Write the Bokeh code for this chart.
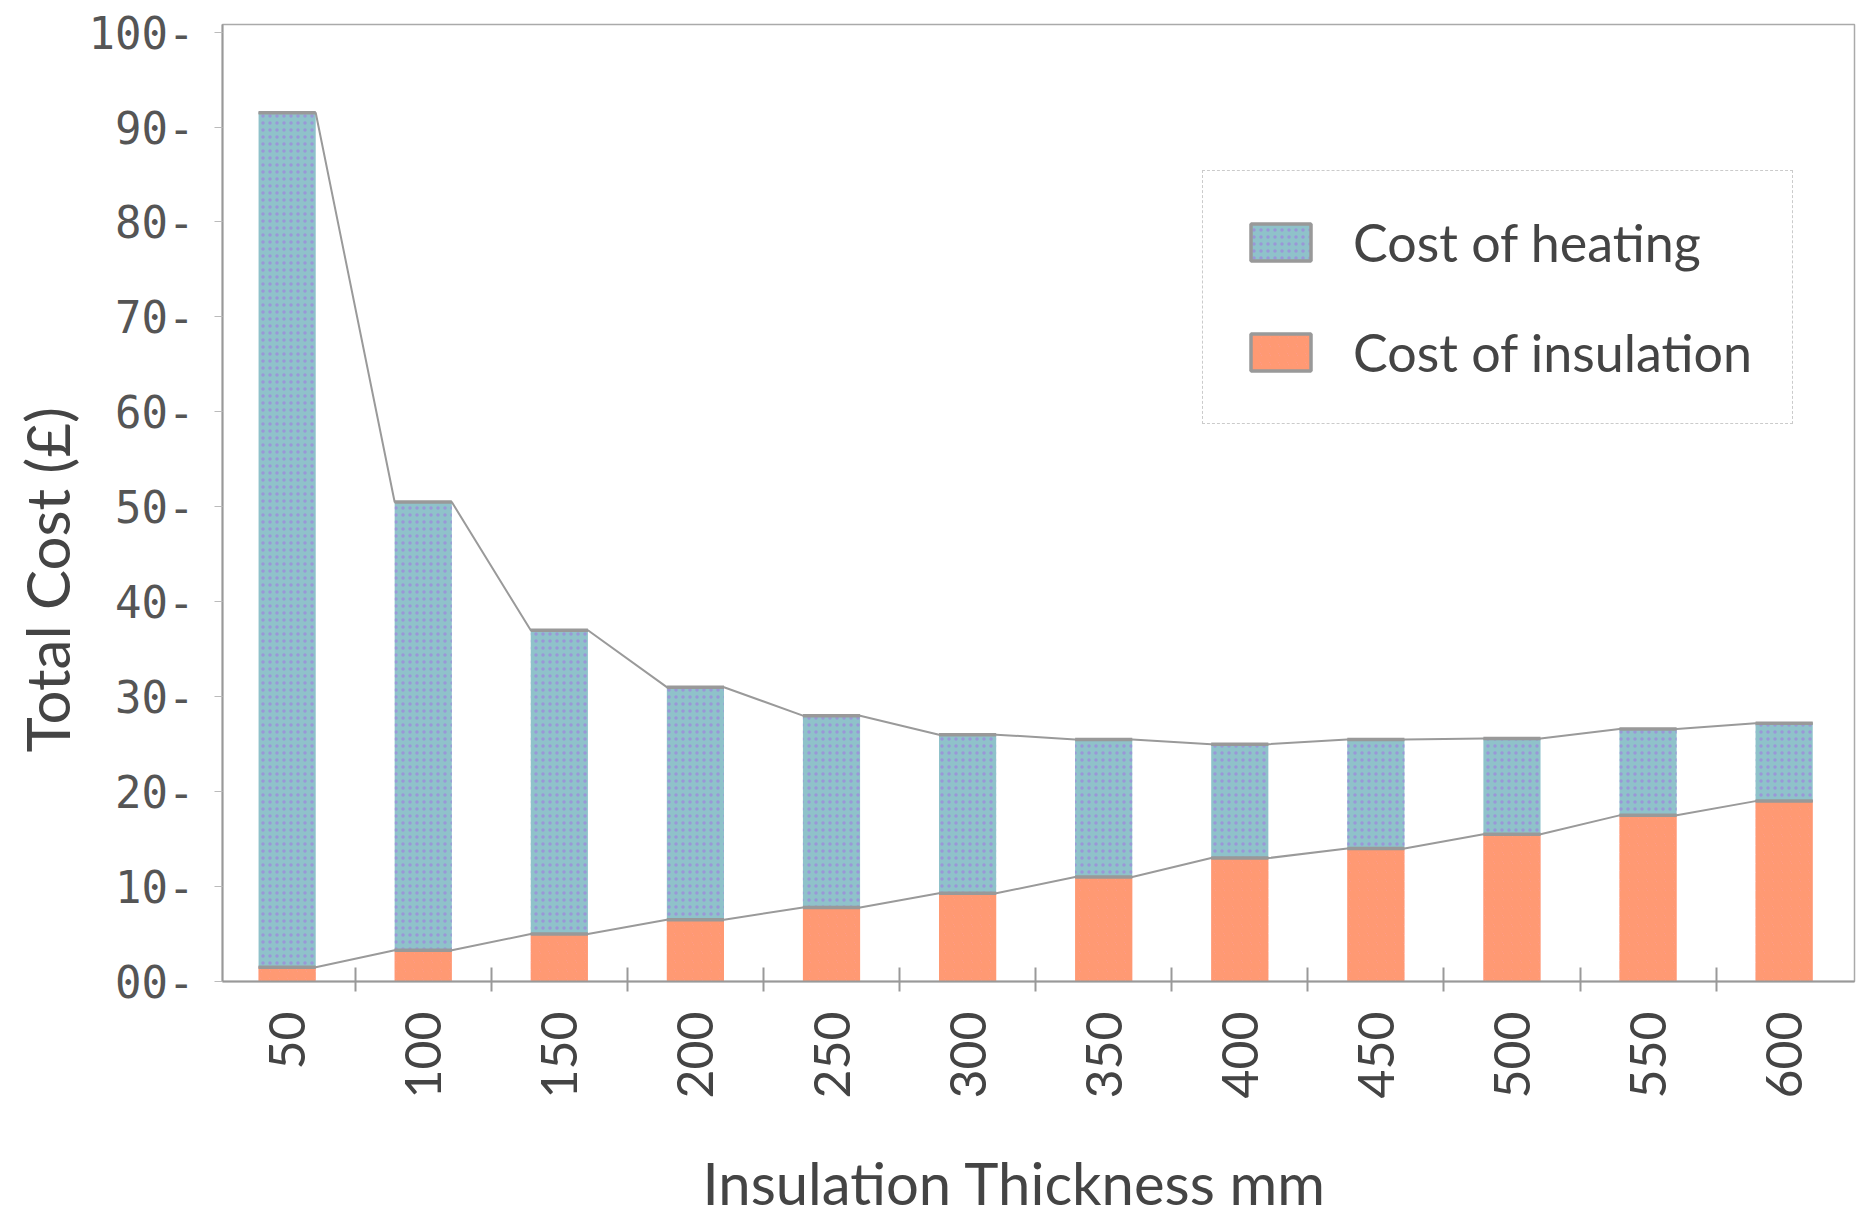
import math
from bokeh.plotting import figure
from bokeh.models import (FixedTicker, ColumnDataSource, Legend, LegendItem, Range1d, Title)
from bokeh.embed import file_html
from bokeh.resources import INLINE

# ---- data ----
thickness_mm = ["50", "100", "150", "200", "250", "300", "350", "400", "450", "500", "550", "600"]
insulation_cost = [1.5, 3.3, 5.0, 6.5, 7.8, 9.3, 11.0, 13.0, 14.0, 15.5, 17.5, 19.0]
heating_cost = [90.0, 47.2, 32.0, 24.5, 20.2, 16.7, 14.5, 12.0, 11.5, 10.1, 9.1, 8.2]
y_ticks = [0, 10, 20, 30, 40, 50, 60, 70, 80, 90, 100]
y_tick_labels = ["00", "10", "20", "30", "40", "50", "60", "70", "80", "90", "100"]

BAR_W = 0.42
idx = list(range(len(thickness_mm)))
total_cost = [a + b for a, b in zip(insulation_cost, heating_cost)]

src = ColumnDataSource(dict(x=idx, ins=insulation_cost, tot=total_cost,
                            zero=[0] * len(idx)))

p = figure(width=1872, height=1217, output_backend="svg", toolbar_location=None,
           x_range=Range1d(-0.475, 11.517), y_range=Range1d(0, 100.8),
           min_border_left=222, min_border_right=18, min_border_top=24,
           min_border_bottom=236)
p.xgrid.visible = False
p.ygrid.visible = False
p.outline_line_color = "#aaaaaa"
p.outline_line_width = 1.5
p.background_fill_color = "white"
p.border_fill_color = "white"

TEAL = "#8fc2ca"
PURPLE = "#9a97d8"
SALMON = "#ff9a96"
ORANGE = "#ff9955"

heat_style = dict(fill_color=TEAL, hatch_pattern="dot", hatch_color=PURPLE,
                  hatch_scale=7, hatch_weight=6)
ins_style = dict(fill_color=SALMON, hatch_pattern="left_diagonal_line",
                 hatch_color=ORANGE, hatch_alpha=0.55, hatch_scale=9, hatch_weight=4)

heat = p.vbar(x="x", width=BAR_W, bottom="ins", top="tot", source=src,
              line_color=None, **heat_style)
ins = p.vbar(x="x", width=BAR_W, bottom="zero", top="ins", source=src,
             line_color=None, **ins_style)

# series lines joining bar tops (edge to edge)
def edge_line(vals):
    xs, ys = [], []
    for i, v in zip(idx, vals):
        xs += [i - BAR_W / 2, i + BAR_W / 2]
        ys += [v, v]
    return xs, ys

tx, ty = edge_line(total_cost)
ix, iy = edge_line(insulation_cost)
p.line(tx, ty, line_color="#9a9a9a", line_width=2)
p.line(ix, iy, line_color="#9a9a9a", line_width=2)

# gray top edges of each segment; also used as the outlined legend swatches
heat_edge = p.vbar(x="x", width=BAR_W, bottom="tot", top="tot", source=src,
                   line_color="#999999", line_width=3.5, **heat_style)
ins_edge = p.vbar(x="x", width=BAR_W, bottom="ins", top="ins", source=src,
                  line_color="#999999", line_width=3.5, **ins_style)

legend = Legend(items=[LegendItem(label="Cost of heating", renderers=[heat_edge]),
                       LegendItem(label="Cost of insulation", renderers=[ins_edge])],
                location=(980, 557), orientation="vertical",
                glyph_width=75, glyph_height=46, label_height=46,
                label_standoff=35, spacing=48, padding=40, margin=0,
                label_text_font="Lato", label_text_font_size="52px",
                label_text_color="#444444",
                border_line_color="#999999", border_line_width=1.5,
                border_line_dash="dotted",
                background_fill_color="white", background_fill_alpha=1.0)
p.add_layout(legend, "center")

# x axis
xa = p.xaxis[0]
xa.ticker = FixedTicker(ticks=idx, minor_ticks=[i + 0.5 for i in idx[:-1]])
xa.major_label_overrides = {i: t for i, t in zip(idx, thickness_mm)}
xa.major_label_orientation = math.pi / 2
xa.major_tick_line_color = None
xa.major_tick_in = 0
xa.major_tick_out = 0
xa.minor_tick_in = 14
xa.minor_tick_out = 10
xa.minor_tick_line_color = "#999999"
xa.minor_tick_line_width = 2
xa.major_label_standoff = 20
xa.major_label_text_font = "Lato"
xa.major_label_text_font_size = "50px"
xa.major_label_text_color = "#444444"
xa.axis_line_color = "#999999"
xa.axis_line_width = 2

# y axis
ya = p.yaxis[0]
ya.ticker = FixedTicker(ticks=y_ticks)
ya.major_label_overrides = {t: lab + "-" for t, lab in zip(y_ticks, y_tick_labels)}
ya.major_tick_in = 0
ya.major_tick_out = 8
ya.major_tick_line_color = "#bbbbbb"
ya.minor_tick_line_color = None
ya.major_label_standoff = 20
ya.major_label_text_font = "DejaVu Sans Mono"
ya.major_label_text_font_size = "44px"
ya.major_label_text_color = "#555555"
ya.axis_line_color = "#999999"
ya.axis_line_width = 2

# axis titles (slightly off-centre, as in the reference)
p.add_layout(Title(text="Insulation Thickness mm", align="left", offset=480,
                   standoff=0, padding=(0, 0, 44, 0), text_font="Lato",
                   text_font_style="normal", text_font_size="58px",
                   text_color="#444444"), "below")
p.add_layout(Title(text="Total Cost (£)", align="left", offset=229,
                   standoff=6, text_font="Lato", text_font_style="normal",
                   text_font_size="60px", text_color="#444444"), "left")

open("out.html", "w").write(file_html(p, INLINE))
